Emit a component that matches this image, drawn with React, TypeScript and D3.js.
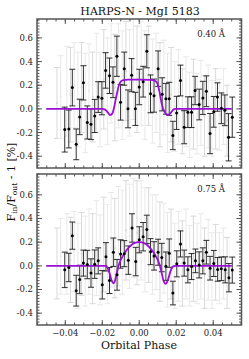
import * as d3 from "d3";

// ---- data ----
const title = "HARPS-N - MgI 5183";
const bandLabels = ["0.40 Å", "0.75 Å"];

const xTicks = [-0.04, -0.02, 0.0, 0.02, 0.04];
const xTickLabels = ["\u22120.04", "\u22120.02", "0.00", "0.02", "0.04"];
const yTicks = [-0.4, -0.2, 0.0, 0.2, 0.4, 0.6];
const yTickLabels = ["-0.4", "-0.2", "0.0", "0.2", "0.4", "0.6"];

// black points: phase, value, error (0.40 A)
const phaseA = [-0.0403, -0.0381, -0.0362, -0.0341, -0.0322, -0.0302, -0.0281, -0.0261, -0.0241, -0.0222, -0.0202, -0.0182, -0.0161, -0.0142, -0.0121, -0.0101, -0.0081, -0.0061, -0.0041, -0.0021, 0.0, 0.0021, 0.0041, 0.0061, 0.008, 0.0102, 0.0124, 0.0144, 0.0162, 0.0182, 0.0202, 0.0223, 0.0243, 0.0263, 0.0283, 0.0302, 0.0324, 0.0344, 0.0363, 0.0383, 0.0403, 0.0423, 0.0444, 0.0463, 0.0483, 0.0503];
const valA = [-0.175, -0.17, 0.18, -0.3, -0.068, 0.22, -0.115, -0.13, -0.06, 0.1, 0.09, 0.325, 0.28, 0.225, 0.445, 0.055, 0.34, 0.0, 0.285, 0.0, 0.185, 0.23, 0.487, 0.127, 0.112, 0.34, 0.123, 0.085, 0.085, -0.225, -0.034, 0.24, -0.155, -0.028, -0.028, 0.155, 0.037, 0.093, 0.149, -0.209, -0.025, 0.1, 0.005, -0.012, -0.24, -0.07];
const errA = [0.19, 0.16, 0.155, 0.13, 0.15, 0.145, 0.14, 0.13, 0.14, 0.13, 0.14, 0.15, 0.15, 0.13, 0.17, 0.15, 0.14, 0.16, 0.14, 0.14, 0.15, 0.13, 0.14, 0.16, 0.14, 0.15, 0.14, 0.13, 0.14, 0.12, 0.14, 0.13, 0.14, 0.13, 0.13, 0.12, 0.13, 0.14, 0.13, 0.17, 0.13, 0.12, 0.13, 0.13, 0.2, 0.17];

// black points (0.75 A)
const phaseB = [-0.0403, -0.0381, -0.0362, -0.0341, -0.0322, -0.0302, -0.0281, -0.0261, -0.0241, -0.0222, -0.02, -0.018, -0.0161, -0.014, -0.012, -0.0101, -0.0081, -0.0059, -0.0039, -0.0019, 0.0, 0.0021, 0.0041, 0.0061, 0.008, 0.0102, 0.0122, 0.0144, 0.0162, 0.0182, 0.0203, 0.0223, 0.0243, 0.0263, 0.0283, 0.0304, 0.0324, 0.0344, 0.0363, 0.0383, 0.0403, 0.0424, 0.0444, 0.0465, 0.0485, 0.0503];
const valB = [-0.034, -0.014, 0.255, -0.21, -0.115, 0.023, 0.011, -0.061, 0.014, 0.042, -0.16, 0.076, -0.124, 0.115, -0.076, 0.1, 0.103, 0.048, 0.32, 0.036, 0.22, 0.246, 0.308, 0.12, 0.084, 0.115, 0.07, -0.003, 0.107, -0.23, 0.017, 0.185, 0.023, -0.034, -0.006, 0.042, 0.008, 0.042, 0.115, -0.02, 0.02, -0.03, -0.025, -0.034, -0.1, -0.036];
const errB = [0.15, 0.12, 0.115, 0.13, 0.12, 0.11, 0.12, 0.12, 0.12, 0.11, 0.12, 0.12, 0.11, 0.12, 0.13, 0.12, 0.11, 0.12, 0.12, 0.12, 0.11, 0.12, 0.12, 0.11, 0.12, 0.11, 0.12, 0.12, 0.12, 0.1, 0.11, 0.11, 0.11, 0.11, 0.11, 0.1, 0.11, 0.11, 0.1, 0.1, 0.11, 0.1, 0.1, 0.11, 0.12, 0.11];

// light grey points (other nights)
const phaseGrey = [-0.0445, -0.0425, -0.0392, -0.0372, -0.0352, -0.0332, -0.0312, -0.0292, -0.0272, -0.0252, -0.0232, -0.0212, -0.0192, -0.0172, -0.0152, -0.0132, -0.0112, -0.0092, -0.0072, -0.0052, -0.0032, -0.0012, 0.001, 0.0031, 0.0051, 0.0071, 0.0091, 0.0112, 0.0133, 0.0153, 0.0172, 0.0192, 0.0213, 0.0233, 0.0253, 0.0273, 0.0293, 0.0313, 0.0333, 0.0353, 0.0373, 0.0393, 0.0413, 0.0433, 0.0455, 0.0475];
const greyValA = [0.05, 0.1, 0.15, 0.12, 0.2, 0.08, 0.18, 0.05, 0.15, 0.1, 0.22, 0.08, 0.25, 0.15, 0.3, 0.18, 0.28, 0.2, 0.32, 0.22, 0.35, 0.25, 0.3, 0.2, 0.28, 0.15, 0.22, 0.12, 0.18, 0.05, 0.12, 0.02, 0.1, -0.02, 0.06, -0.05, 0.04, -0.04, 0.05, -0.06, 0.02, -0.08, 0.0, -0.05, 0.02, -0.1];
const greyErrA = [0.3, 0.35, 0.38, 0.4, 0.36, 0.4, 0.38, 0.42, 0.4, 0.38, 0.42, 0.4, 0.42, 0.45, 0.42, 0.45, 0.44, 0.46, 0.42, 0.45, 0.44, 0.45, 0.44, 0.46, 0.42, 0.44, 0.42, 0.44, 0.4, 0.42, 0.4, 0.38, 0.4, 0.36, 0.38, 0.36, 0.38, 0.34, 0.36, 0.34, 0.35, 0.32, 0.34, 0.3, 0.32, 0.3];
const greyValB = [0.02, 0.08, 0.1, 0.05, 0.12, 0.0, 0.1, 0.04, 0.12, 0.06, 0.15, 0.05, 0.18, 0.1, 0.22, 0.15, 0.25, 0.2, 0.3, 0.25, 0.32, 0.28, 0.3, 0.22, 0.26, 0.18, 0.2, 0.12, 0.15, 0.05, 0.1, 0.0, 0.08, 0.02, 0.1, 0.0, 0.06, 0.02, 0.08, -0.02, 0.05, -0.04, 0.03, -0.02, 0.02, -0.06];
const greyErrB = [0.3, 0.32, 0.34, 0.36, 0.34, 0.36, 0.35, 0.38, 0.36, 0.38, 0.4, 0.38, 0.4, 0.42, 0.4, 0.42, 0.42, 0.44, 0.42, 0.44, 0.42, 0.44, 0.42, 0.44, 0.4, 0.42, 0.4, 0.42, 0.38, 0.4, 0.38, 0.36, 0.38, 0.36, 0.38, 0.34, 0.36, 0.34, 0.36, 0.34, 0.34, 0.32, 0.32, 0.3, 0.3, 0.3];

// model (purple) curves
const modelPhaseA = [-0.0503, -0.02, -0.0185, -0.017, -0.0158, -0.0146, -0.0135, -0.0122, -0.011, -0.0098, -0.0085, -0.006, 0.0, 0.006, 0.0085, 0.0098, 0.011, 0.0122, 0.0135, 0.0148, 0.016, 0.0172, 0.0185, 0.0195, 0.05];
const modelValA = [0.0, 0.0, -0.006, -0.03, -0.052, -0.04, 0.02, 0.12, 0.2, 0.235, 0.244, 0.247, 0.247, 0.245, 0.238, 0.215, 0.14, 0.04, -0.02, -0.048, -0.05, -0.03, -0.006, 0.0, 0.0];
const modelPhaseB = [-0.0503, -0.018, -0.0165, -0.015, -0.014, -0.013, -0.012, -0.011, -0.009, -0.007, -0.005, -0.003, 0.0, 0.003, 0.005, 0.007, 0.009, 0.011, 0.012, 0.013, 0.0143, 0.0155, 0.017, 0.0185, 0.0195, 0.05];
const modelValB = [0.0, 0.0, -0.04, -0.12, -0.148, -0.12, -0.05, 0.01, 0.08, 0.13, 0.165, 0.19, 0.2, 0.19, 0.165, 0.13, 0.08, 0.01, -0.05, -0.12, -0.152, -0.12, -0.04, -0.003, 0.0, 0.0];

// ---- layout ----
const W = 249;
const H = 359;
const LEFT = 37;
const RIGHT = 241.5;
const FONT = "'DejaVu Serif', serif";
const FRAME = "#555";
const PURPLE = "#9a0ed8";

const x = d3.scaleLinear().domain([-0.0553, 0.0553]).range([LEFT, RIGHT]);
const xMinor = d3.range(-0.055, 0.0551, 0.005).filter((v) => v > -0.0552 && v < 0.0552);

type PanelProps = {
  top: number;
  bottom: number;
  yDomain: [number, number];
  phases: number[];
  vals: number[];
  errs: number[];
  greyVals: number[];
  greyErrs: number[];
  mPhase: number[];
  mVal: number[];
  label: string;
  showX: boolean;
  clipId: string;
};

const Panel = (p: PanelProps) => {
  const y = d3.scaleLinear().domain(p.yDomain).range([p.bottom, p.top]);
  const yMinor = d3.range(-0.5, 0.8, 0.025).filter((v) => v > p.yDomain[0] + 0.001 && v < p.yDomain[1]);
  const line = d3
    .line<number>()
    .x((_, i) => x(p.mPhase[i]))
    .y((d) => y(d))
    .curve(d3.curveMonotoneX);
  const cap = 3;
  return (
    <g>
      <defs>
        <clipPath id={p.clipId}>
          <rect x={LEFT} y={p.top} width={RIGHT - LEFT} height={p.bottom - p.top} />
        </clipPath>
      </defs>
      <g clipPath={`url(#${p.clipId})`}>
        {phaseGrey.map((ph, i) => {
          const cx = x(ph);
          const y0 = y(p.greyVals[i] - p.greyErrs[i]);
          const y1 = y(p.greyVals[i] + p.greyErrs[i]);
          const c = i % 3 === 0 ? "#d9d9d9" : "#e9e9e9";
          return (
            <g key={i} stroke={c} strokeWidth={1}>
              <line x1={cx} x2={cx} y1={y0} y2={y1} />
              <line x1={cx - cap} x2={cx + cap} y1={y0} y2={y0} />
              <line x1={cx - cap} x2={cx + cap} y1={y1} y2={y1} />
              <circle cx={cx} cy={y(p.greyVals[i])} r={1.1} fill={c} stroke="none" />
            </g>
          );
        })}
        {p.phases.map((ph, i) => {
          const cx = x(ph);
          const y0 = y(p.vals[i] - p.errs[i]);
          const y1 = y(p.vals[i] + p.errs[i]);
          return (
            <g key={i} stroke="#1a1a1a" strokeWidth={0.9}>
              <line x1={cx} x2={cx} y1={y0} y2={y1} />
              <line x1={cx - cap} x2={cx + cap} y1={y0} y2={y0} />
              <line x1={cx - cap} x2={cx + cap} y1={y1} y2={y1} />
            </g>
          );
        })}
        <path d={line(p.mVal) || ""} fill="none" stroke={PURPLE} strokeWidth={1.8} />
        {p.phases.map((ph, i) => (
          <circle key={i} cx={x(ph)} cy={y(p.vals[i])} r={1.5} fill="#000" />
        ))}
      </g>
      {/* ticks on all four sides, pointing inward */}
      <g stroke={FRAME} strokeWidth={1}>
        {xMinor.map((v, i) => (
          <g key={i}>
            <line x1={x(v)} x2={x(v)} y1={p.bottom} y2={p.bottom - 2.5} />
            <line x1={x(v)} x2={x(v)} y1={p.top} y2={p.top + 2.5} />
          </g>
        ))}
        {xTicks.map((v, i) => (
          <g key={i}>
            <line x1={x(v)} x2={x(v)} y1={p.bottom} y2={p.bottom - 5} />
            <line x1={x(v)} x2={x(v)} y1={p.top} y2={p.top + 5} />
          </g>
        ))}
        {yMinor.map((v, i) => (
          <g key={i}>
            <line x1={LEFT} x2={LEFT + 2.5} y1={y(v)} y2={y(v)} />
            <line x1={RIGHT} x2={RIGHT - 2.5} y1={y(v)} y2={y(v)} />
          </g>
        ))}
        {yTicks.map((v, i) => (
          <g key={i}>
            <line x1={LEFT} x2={LEFT + 5} y1={y(v)} y2={y(v)} />
            <line x1={RIGHT} x2={RIGHT - 5} y1={y(v)} y2={y(v)} />
          </g>
        ))}
      </g>
      <rect x={LEFT} y={p.top} width={RIGHT - LEFT} height={p.bottom - p.top} fill="none" stroke={FRAME} strokeWidth={1.5} />
      {yTicks.map((v, i) => (
        <text key={i} x={LEFT - 4} y={y(v) + 3} textAnchor="end" fontSize={8.5} fontFamily={FONT} fill="#222">
          {yTickLabels[i]}
        </text>
      ))}
      {p.showX &&
        xTicks.map((v, i) => (
          <text key={i} x={x(v)} y={p.bottom + 11} textAnchor="middle" fontSize={8.5} fontFamily={FONT} fill="#222">
            {xTickLabels[i]}
          </text>
        ))}
      <text x={225} y={p.top + 18} textAnchor="end" fontSize={8.5} fontFamily={FONT} fill="#222">
        {p.label}
      </text>
    </g>
  );
};

export default function App() {
  return (
    <svg width={W} height={H} style={{ position: "absolute", left: 0, top: 0, background: "#fff" }}>
      <text x={140} y={14.5} textAnchor="middle" fontSize={11} fontFamily={FONT} fill="#111">
        {title}
      </text>
      <Panel
        top={19}
        bottom={168}
        yDomain={[-0.5, 0.76]}
        phases={phaseA}
        vals={valA}
        errs={errA}
        greyVals={greyValA}
        greyErrs={greyErrA}
        mPhase={modelPhaseA}
        mVal={modelValA}
        label={bandLabels[0]}
        showX={false}
        clipId="clipA"
      />
      <Panel
        top={174}
        bottom={325}
        yDomain={[-0.5, 0.776]}
        phases={phaseB}
        vals={valB}
        errs={errB}
        greyVals={greyValB}
        greyErrs={greyErrB}
        mPhase={modelPhaseB}
        mVal={modelValB}
        label={bandLabels[1]}
        showX={true}
        clipId="clipB"
      />
      <text x={139} y={349} textAnchor="middle" fontSize={11} fontFamily={FONT} fill="#111">
        Orbital Phase
      </text>
      <text transform="translate(14.5,182) rotate(-90)" textAnchor="middle" fontSize={11} fontFamily={FONT} fill="#111">
        F<tspan fontSize={7.5} dy={2}>in</tspan>
        <tspan dy={-2}>/F</tspan>
        <tspan fontSize={7.5} dy={2}>out</tspan>
        <tspan dy={-2}> - 1 [%]</tspan>
      </text>
    </svg>
  );
}
